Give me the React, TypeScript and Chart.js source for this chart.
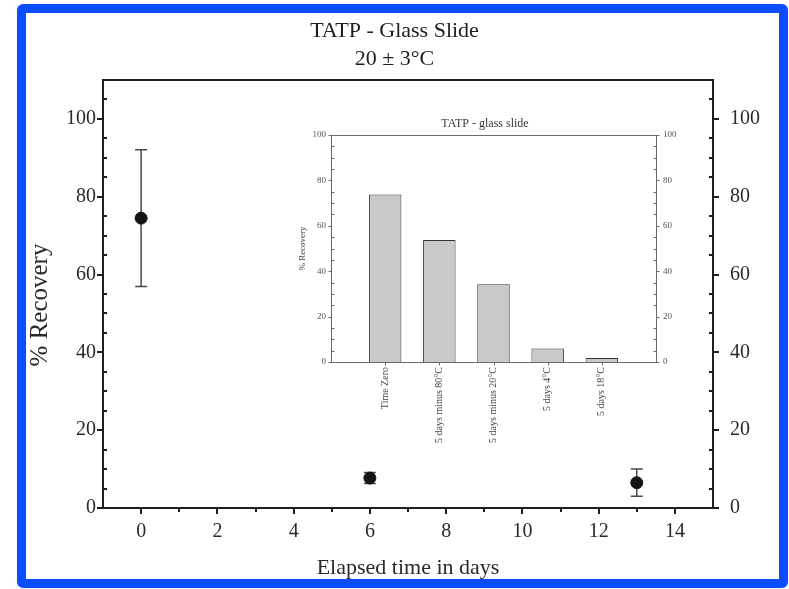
import React, { useEffect, useRef } from 'react';
import { Chart, registerables } from 'chart.js';

Chart.register(...registerables);

// ---------- main chart data ----------
const elapsedDays = [0, 6, 13];
const recoveryMean = [74.5, 7.7, 6.5];
const recoveryError = [17.6, 1.4, 3.5];
const xTickValues = [0, 2, 4, 6, 8, 10, 12, 14];
const xMinorTicks = [1, 3, 5, 7, 9, 11, 13];
const yTickValues = [0, 20, 40, 60, 80, 100];
const yMinorTicks = [5, 10, 15, 25, 30, 35, 45, 50, 55, 65, 70, 75, 85, 90, 95, 105];
const mainYTitle = '% Recovery';

// ---------- inset chart data ----------
const insetCategories = ['Time Zero', '5 days minus 80°C', '5 days minus 20°C', '5 days 4°C', '5 days 18°C'];
const insetRecovery = [73.8, 53.7, 34.3, 6.0, 1.8];
const insetPositions = [1, 2, 3, 4, 5];
const insetYTicks = [0, 20, 40, 60, 80, 100];
const insetYMinor = [5, 10, 15, 25, 30, 35, 45, 50, 55, 65, 70, 75, 85, 90, 95];

const SERIF = '"Liberation Serif", "DejaVu Serif", serif';

type Mark = { scale: string; edge: 'left' | 'right' | 'bottom'; values: number[]; length: number; outward: boolean };

function makeFramePlugin(id: string, marks: Mark[], color: string, lineWidth: number) {
  return {
    id,
    afterDraw(chart: any) {
      const { ctx, chartArea: a } = chart;
      const off = lineWidth % 2 === 1 ? 0.5 : 0;
      const L = Math.round(a.left) + off;
      const R = Math.round(a.right) + off;
      const T = Math.round(a.top) + off;
      const B = Math.round(a.bottom) + off;
      ctx.save();
      ctx.strokeStyle = color;
      ctx.lineWidth = lineWidth;
      ctx.lineCap = 'butt';
      ctx.strokeRect(L, T, R - L, B - T);
      for (const m of marks) {
        const s = chart.scales[m.scale];
        for (const v of m.values) {
          const p = Math.round(s.getPixelForValue(v)) + off;
          ctx.beginPath();
          if (m.edge === 'left') {
            ctx.moveTo(L, p);
            ctx.lineTo(L + (m.outward ? -m.length : m.length), p);
          } else if (m.edge === 'right') {
            ctx.moveTo(R, p);
            ctx.lineTo(R + (m.outward ? m.length : -m.length), p);
          } else {
            ctx.moveTo(p, B);
            ctx.lineTo(p, B + (m.outward ? m.length : -m.length));
          }
          ctx.stroke();
        }
      }
      ctx.restore();
    },
  };
}

const errorBarPlugin = {
  id: 'errorBars',
  beforeDatasetsDraw(chart: any) {
    const { ctx } = chart;
    const xs = chart.scales.x;
    const ys = chart.scales.y;
    ctx.save();
    ctx.strokeStyle = '#4a4a4a';
    ctx.lineWidth = 1.5;
    elapsedDays.forEach((d, i) => {
      const x = xs.getPixelForValue(d);
      const top = ys.getPixelForValue(recoveryMean[i] + recoveryError[i]);
      const bot = ys.getPixelForValue(recoveryMean[i] - recoveryError[i]);
      ctx.beginPath();
      ctx.moveTo(x, top);
      ctx.lineTo(x, bot);
      ctx.moveTo(x - 6, top);
      ctx.lineTo(x + 6, top);
      ctx.moveTo(x - 6, bot);
      ctx.lineTo(x + 6, bot);
      ctx.stroke();
    });
    ctx.restore();
  },
};

const yTitlePlugin = {
  id: 'yTitle',
  afterDraw(chart: any) {
    const { ctx, chartArea: a } = chart;
    ctx.save();
    ctx.fillStyle = '#2a2a2a';
    ctx.font = `25px ${SERIF}`;
    ctx.textAlign = 'center';
    ctx.textBaseline = 'middle';
    ctx.translate(40, (a.top + a.bottom) / 2 + 11);
    ctx.rotate(-Math.PI / 2);
    ctx.fillText(mainYTitle, 0, 0);
    ctx.restore();
  },
};

function MainChart() {
  const ref = useRef<HTMLCanvasElement | null>(null);
  useEffect(() => {
    if (!ref.current) return;
    const tickFont = { family: SERIF, size: 20 };
    const frame = makeFramePlugin(
      'mainFrame',
      [
        { scale: 'y', edge: 'left', values: yTickValues, length: 6, outward: true },
        { scale: 'y', edge: 'left', values: yMinorTicks, length: 4, outward: false },
        { scale: 'y2', edge: 'right', values: yTickValues, length: 6, outward: true },
        { scale: 'y2', edge: 'right', values: yMinorTicks, length: 4, outward: false },
        { scale: 'x', edge: 'bottom', values: xTickValues, length: 6, outward: true },
        { scale: 'x', edge: 'bottom', values: xMinorTicks, length: 4, outward: true },
      ],
      '#1e1e1e',
      2
    );
    const chart = new Chart(ref.current, {
      type: 'scatter',
      data: {
        datasets: [
          {
            data: elapsedDays.map((x, i) => ({ x, y: recoveryMean[i] })),
            backgroundColor: '#141414',
            borderColor: '#141414',
            pointRadius: 6,
            pointHoverRadius: 6,
            yAxisID: 'y',
          },
        ],
      },
      options: {
        responsive: false,
        animation: false,
        events: [],
        layout: { padding: 0 },
        plugins: {
          legend: { display: false },
          tooltip: { enabled: false },
          title: {
            display: true,
            text: ['TATP - Glass Slide', '20 ± 3°C'],
            color: '#1e1e1e',
            font: { family: SERIF, size: 22, weight: 'normal', lineHeight: 28 / 22 },
            padding: { top: 17, bottom: 7 },
          },
        },
        scales: {
          x: {
            type: 'linear',
            min: -1,
            max: 15,
            afterBuildTicks: (s: any) => {
              s.ticks = xTickValues.map((v) => ({ value: v }));
            },
            grid: { display: false, drawTicks: false },
            border: { display: false },
            ticks: { color: '#2a2a2a', font: tickFont, padding: 12 },
            title: {
              display: true,
              text: 'Elapsed time in days',
              color: '#2a2a2a',
              font: { family: SERIF, size: 22 },
              padding: { top: 0, bottom: 8 },
            },
            afterFit: (s: any) => {
              s.height = 81;
            },
          },
          y: {
            type: 'linear',
            position: 'left',
            min: 0,
            max: 110,
            afterBuildTicks: (s: any) => {
              s.ticks = yTickValues.map((v) => ({ value: v }));
            },
            grid: { display: false, drawTicks: false },
            border: { display: false },
            ticks: { color: '#2a2a2a', font: tickFont, padding: 7 },
            afterFit: (s: any) => {
              s.width = 103;
            },
          },
          y2: {
            type: 'linear',
            position: 'right',
            min: 0,
            max: 110,
            afterBuildTicks: (s: any) => {
              s.ticks = yTickValues.map((v) => ({ value: v }));
            },
            grid: { display: false, drawTicks: false },
            border: { display: false },
            ticks: { color: '#2a2a2a', font: tickFont, padding: 17 },
            afterFit: (s: any) => {
              s.width = 76;
            },
          },
        },
      } as any,
      plugins: [errorBarPlugin, frame, yTitlePlugin],
    });
    return () => chart.destroy();
  }, []);
  return (
    <canvas
      ref={ref}
      width={789}
      height={589}
      style={{ position: 'absolute', left: 0, top: 0, width: 789, height: 589 }}
    />
  );
}

function InsetChart() {
  const ref = useRef<HTMLCanvasElement | null>(null);
  useEffect(() => {
    if (!ref.current) return;
    const tickFont = { family: SERIF, size: 9 };
    const frame = makeFramePlugin(
      'insetFrame',
      [
        { scale: 'y', edge: 'left', values: insetYTicks, length: 3, outward: true },
        { scale: 'y', edge: 'left', values: insetYMinor, length: 3, outward: false },
        { scale: 'y2', edge: 'right', values: insetYTicks, length: 3, outward: true },
        { scale: 'y2', edge: 'right', values: insetYMinor, length: 3, outward: false },
        { scale: 'x', edge: 'bottom', values: insetPositions, length: 3, outward: true },
      ],
      '#6a6a6a',
      1
    );
    const chart = new Chart(ref.current, {
      type: 'bar',
      data: {
        datasets: [
          {
            data: insetPositions.map((x, i) => ({ x, y: insetRecovery[i] })),
            backgroundColor: '#c9c9c9',
            borderColor: '#333333',
            borderWidth: 1,
            barPercentage: 0.6,
            categoryPercentage: 1,
            yAxisID: 'y',
          },
        ],
      },
      options: {
        responsive: false,
        animation: false,
        events: [],
        layout: { padding: 0 },
        plugins: {
          legend: { display: false },
          tooltip: { enabled: false },
          title: {
            display: true,
            text: 'TATP - glass slide',
            color: '#3a3a3a',
            font: { family: SERIF, size: 12, weight: 'normal', lineHeight: 1.2 },
            padding: { top: 7, bottom: 3.6 },
          },
        },
        scales: {
          x: {
            type: 'linear',
            min: 0,
            max: 6,
            offset: false,
            afterBuildTicks: (s: any) => {
              s.ticks = insetPositions.map((v) => ({ value: v }));
            },
            grid: { display: false, drawTicks: false },
            border: { display: false },
            ticks: {
              color: '#444',
              font: { family: SERIF, size: 10 },
              padding: 5,
              minRotation: 90,
              maxRotation: 90,
              autoSkip: false,
              callback: (v: any) => insetCategories[insetPositions.indexOf(Number(v))] ?? '',
            },
            afterFit: (s: any) => {
              s.height = 128;
            },
          },
          y: {
            type: 'linear',
            position: 'left',
            min: 0,
            max: 100,
            afterBuildTicks: (s: any) => {
              s.ticks = insetYTicks.map((v) => ({ value: v }));
            },
            grid: { display: false, drawTicks: false },
            border: { display: false },
            ticks: { color: '#555', font: tickFont, padding: 5 },
            title: {
              display: true,
              text: '% Recovery',
              color: '#444',
              font: { family: SERIF, size: 9 },
              padding: { top: 17, bottom: 0 },
            },
            afterFit: (s: any) => {
              s.width = 51;
            },
          },
          y2: {
            type: 'linear',
            position: 'right',
            min: 0,
            max: 100,
            afterBuildTicks: (s: any) => {
              s.ticks = insetYTicks.map((v) => ({ value: v }));
            },
            grid: { display: false, drawTicks: false },
            border: { display: false },
            ticks: { color: '#555', font: tickFont, padding: 7 },
            afterFit: (s: any) => {
              s.width = 34;
            },
          },
        },
      } as any,
      plugins: [frame],
    });
    return () => chart.destroy();
  }, []);
  return (
    <canvas
      ref={ref}
      width={410}
      height={380}
      style={{ position: 'absolute', left: 280, top: 110, width: 410, height: 380 }}
    />
  );
}

export default function App() {
  return (
    <div style={{ position: 'absolute', left: 0, top: 0, width: 789, height: 589, background: '#ffffff', overflow: 'hidden' }}>
      <MainChart />
      <InsetChart />
      <div
        style={{
          position: 'absolute',
          left: 17,
          top: 4,
          width: 771,
          height: 584,
          border: '9px solid #0b4dff',
          borderRadius: 6,
          boxSizing: 'border-box',
          pointerEvents: 'none',
        }}
      />
    </div>
  );
}
